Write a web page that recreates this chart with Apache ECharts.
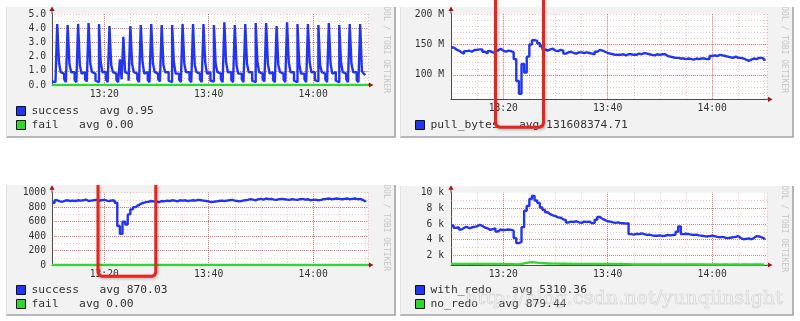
<!DOCTYPE html>
<html><head><meta charset="utf-8">
<script src="https://cdn.jsdelivr.net/npm/echarts@6/dist/echarts.min.js"></script>
<style>html,body{margin:0;padding:0;background:#fff}#c{width:800px;height:321px}</style>
</head><body><div id="c"></div>
<script>
// ---------- time axis (minutes after 13:00) ----------
const timeMin = 10, timeMax = 70.5;
const timeTickValues = [20, 40, 60];
const timeTickLabels = ['13:20', '13:40', '14:00'];

// ---------- panel 1 : success / fail (20 s samples from 13:10) ----------
const p1Start = 10, p1Step = 1 / 3;
const p1Success = [
  0.25,0.2,0.2,
  4.30,1.6,0.9,0.8,0.4,0.2,   4.23,1.5,0.9,0.9,0.35,0.2,  4.30,1.4,0.8,0.9,0.4,0.25,
  4.37,1.5,0.9,0.8,0.3,0.2,   4.30,1.6,0.9,0.9,0.4,0.2,   4.15,1.4,0.9,0.8,0.35,0.2,
  1.8,0.4,3.4,0.9,0.8,0.3,    4.15,1.5,0.9,0.8,0.4,0.2,   4.23,1.6,0.8,0.9,0.35,0.2,
  4.30,1.5,0.9,0.8,0.4,0.25,  4.23,1.4,0.9,0.9,0.3,0.2,   4.23,1.6,0.8,0.8,0.4,0.2,
  4.30,1.5,0.9,0.9,0.35,0.2,  4.30,1.4,0.9,0.8,0.4,0.2,   4.30,1.6,0.8,0.9,0.3,0.25,
  4.23,1.5,0.9,0.8,0.4,0.2,   4.41,1.6,0.9,0.9,0.35,0.2,  4.23,1.4,0.8,0.8,0.4,0.2,
  4.30,1.5,0.9,0.9,0.3,0.2,   4.37,1.6,0.9,0.8,0.4,0.25,  4.37,1.5,0.8,0.9,0.35,0.2,
  4.15,1.4,0.9,0.8,0.4,0.2,   4.41,1.6,0.9,0.9,0.3,0.2,   4.30,1.5,0.8,0.8,0.4,0.2,
  4.30,1.6,0.9,0.9,0.35,0.25, 4.23,1.4,0.9,0.8,0.4,0.2,   4.37,1.5,0.8,0.9,0.3,0.2,
  4.23,1.6,0.9,0.8,0.4,0.2,   4.30,1.5,0.9,0.9,0.35,0.2,
  4.30,1.0,0.8,0.7
];
const p1FailStart = 10, p1FailStep = 1;
const p1Fail = [0,0,0,0,0,0,0,0,0,0,0,0,0,0,0,0,0,0,0,0,0,0,0,0,0,0,0,0,0,0,0,0,0,0,0,0,0,0,0,0,0,0,0,0,0,0,0,0,0,0,0,0,0,0,0,0,0,0,0,0,0,0];
const p1Names = ['success', 'fail'];
const p1Avg = ['0.95', '0.00'];
const p1YTicks = [0, 1, 2, 3, 4, 5];

// ---------- panel 2 : pull_bytes in M (30 s samples from 13:10) ----------
const p2Start = 10, p2Step = 0.5;
const p2PullBytesM = [
  145,142,140,137,135,139,140,138,141,141,
  142,142,138,135,139,137,136,140,143,140,
  138,140,139,137,126,90,69,118,104,130,
  150,157,156,152,147,142,140,142,143,140,
  139,141,140,135,137,138,136,135,137,137,
  136,137,136,135,134,138,141,140,138,136,
  135,134,133,133,133,134,132,134,134,133,
  133,135,134,136,135,134,133,132,134,133,
  134,134,131,130,129,128,128,127,127,126,
  127,126,125,127,126,127,127,126,126,131,
  132,131,133,132,131,130,129,128,130,128,
  128,127,125,123,125,127,126,128,128,126,
  123
];
const p2Names = ['pull_bytes'];
const p2Avg = ['131608374.71'];
const p2YTicks = [100, 150, 200];

// ---------- panel 3 : success / fail (30 s samples from 13:10) ----------
const p3Start = 10, p3Step = 0.5;
const p3Success = [
  860,895,880,875,890,895,885,890,885,895,
  890,895,905,885,890,895,900,890,895,900,
  890,885,895,890,860,540,430,600,560,700,
  770,800,825,845,860,870,875,885,880,875,
  870,885,880,890,885,895,890,880,895,890,
  895,885,890,895,890,900,895,890,885,880,
  870,875,880,885,890,885,890,895,900,890,
  885,880,890,895,900,910,905,895,910,915,
  905,920,910,915,905,900,910,915,910,905,
  900,910,905,900,910,915,905,910,895,900,
  905,895,900,910,915,920,910,915,920,915,
  910,915,920,910,915,920,910,915,900,880,
  870
];
const p3FailStart = 10, p3FailStep = 1;
const p3Fail = [0,0,0,0,0,0,0,0,0,0,0,0,0,0,0,0,0,0,0,0,0,0,0,0,0,0,0,0,0,0,0,0,0,0,0,0,0,0,0,0,0,0,0,0,0,0,0,0,0,0,0,0,0,0,0,0,0,0,0,0,0,0];
const p3Names = ['success', 'fail'];
const p3Avg = ['870.03', '0.00'];
const p3YTicks = [0, 200, 400, 600, 800, 1000];

// ---------- panel 4 : with_redo / no_redo (30 s samples from 13:10) ----------
const p4Start = 10, p4Step = 0.5;
const p4WithRedo = [
  5800,5500,5600,5300,5500,5650,5450,5550,5650,5700,
  5900,5750,5550,5450,5250,5350,5450,5050,5300,5200,
  5250,5300,5250,5150,4200,3550,3700,5600,7700,8300,
  9200,9600,9000,8700,8100,7800,7500,7250,7100,7000,
  6850,6800,6600,6500,6200,6300,6250,6350,6200,6150,
  6300,6250,6300,6100,6150,6550,6900,6650,6500,6350,
  6300,6200,6150,6200,6100,6100,6050,6100,4700,4650,
  4750,4700,4800,4700,4600,4650,4550,4500,4500,4550,
  4450,4500,4600,4550,4600,4650,5000,5700,4700,4750,
  4700,4650,4600,4650,4550,4500,4450,4400,4450,4500,
  4450,4350,4300,4350,4250,4200,4250,4300,4350,4450,
  4200,4050,4100,4150,4050,4200,4450,4400,4300,4150,
  4000
];
const p4NoRedo = [
  900,910,890,900,905,895,900,910,900,895,
  900,905,895,900,890,895,900,890,885,880,
  875,870,860,850,840,850,880,960,1040,1100,
  1120,1100,1060,1030,1000,980,960,950,940,930,
  930,920,930,920,910,920,910,900,910,900,
  905,900,910,900,895,900,905,900,895,890,
  885,880,875,870,880,870,865,860,840,830,
  830,825,820,830,825,820,815,820,825,820,
  815,820,825,820,815,820,825,820,815,820,
  820,815,820,825,820,815,820,815,810,815,
  820,815,810,815,820,815,810,815,820,815,
  810,815,820,815,810,815,820,815,810,815,
  810
];
const p4Names = ['with_redo', 'no_redo'];
const p4Avg = ['5310.36', '879.44'];
const p4YTicks = [2000, 4000, 6000, 8000, 10000];
const p4YMinor = [1000, 3000, 5000, 7000, 9000];

// ---------- layout / style ----------
const mono = 'DejaVu Sans Mono';
const blue = '#2236f0', green = '#2fd82f';
const minorGrid = 'rgba(235,120,120,0.45)';
const majorGrid = 'rgba(225,30,30,0.55)';
const axisColor = '#4a4a4a';
const grids = [
  {left: 52,  top: 14,    width: 316, height: 71},
  {left: 451, top: 14,    width: 316, height: 85.3},
  {left: 52,  top: 192.7, width: 316, height: 72.3},
  {left: 451, top: 192.7, width: 316, height: 72.3}
];
const panels = [
  {x: 6,   y: 7,   w: 389, h: 130},
  {x: 400, y: 7,   w: 393, h: 130},
  {x: 6,   y: 185, w: 389, h: 130},
  {x: 400, y: 186, w: 393, h: 129}
];

function pairs(start, step, vals) { return vals.map((v, i) => [start + i * step, v]); }
function timeFmt(v) { const k = timeTickValues.indexOf(v); return k >= 0 ? timeTickLabels[k] : ''; }

const labelStyle = {fontFamily: mono, fontSize: 9.7, color: '#333'};

const xAxis = grids.map((g, i) => ({
  type: 'value', gridIndex: i, min: timeMin, max: timeMax, interval: 5,
  axisLine: {show: true, onZero: false, lineStyle: {color: axisColor, width: 1}},
  axisTick: {show: false},
  axisLabel: Object.assign({formatter: timeFmt, margin: 4, hideOverlap: false}, labelStyle),
  splitLine: {show: true, lineStyle: {color: minorGrid, type: [1, 2], width: 1}}
}));

function yBase(i) {
  return {
    type: 'value', gridIndex: i,
    axisLine: {show: true, onZero: false, lineStyle: {color: axisColor, width: 1}},
    axisTick: {show: false},
    splitLine: {show: true, lineStyle: {color: minorGrid, type: [1, 2], width: 1}}
  };
}
const yAxis = [
  Object.assign(yBase(0), {min: 0, max: 5, interval: 0.5,
    axisLabel: Object.assign({margin: 6, formatter: v => p1YTicks.indexOf(v) >= 0 ? v.toFixed(1) : ''}, labelStyle)}),
  Object.assign(yBase(1), {min: 60, max: 200, interval: 10,
    axisLabel: Object.assign({margin: 7, formatter: v => p2YTicks.indexOf(v) >= 0 ? v + ' M' : ''}, labelStyle)}),
  Object.assign(yBase(2), {min: 0, max: 1000, interval: 100,
    axisLabel: Object.assign({margin: 6, formatter: v => p3YTicks.indexOf(v) >= 0 ? String(v) : ''}, labelStyle)}),
  Object.assign(yBase(3), {min: 760, max: 10000, splitLine: {show: false},
    axisLabel: Object.assign({margin: 7, customValues: p4YTicks, formatter: v => (v / 1000) + ' k'}, labelStyle)})
];

function gridLines(yMajor, yMinor) {
  const d = timeTickValues.map(t => ({xAxis: t}))
    .concat(yMajor.map(v => ({yAxis: v})))
    .concat((yMinor || []).map(v => ({yAxis: v, lineStyle: {color: minorGrid, type: [1, 2], width: 1}})));
  return {silent: true, symbol: ['none', 'none'], label: {show: false}, animation: false, z: 1,
    lineStyle: {color: majorGrid, type: [1, 1], width: 1}, data: d};
}

function line(name, i, data, color, ml) {
  const s = {name: name, type: 'line', xAxisIndex: i, yAxisIndex: i, data: data, step: 'end',
    showSymbol: false, symbol: 'none', color: color, z: 3,
    lineStyle: {color: color, width: 2.4}, animation: false};
  if (ml) s.markLine = ml;
  return s;
}

const series = [
  line('success', 0, pairs(p1Start, p1Step, p1Success), blue, gridLines(p1YTicks.slice(1, -1))),
  line('fail', 0, pairs(p1FailStart, p1FailStep, p1Fail), green),
  line('pull_bytes', 1, pairs(p2Start, p2Step, p2PullBytesM), blue, gridLines(p2YTicks.slice(0, -1))),
  line('success', 2, pairs(p3Start, p3Step, p3Success), blue, gridLines(p3YTicks.slice(1, -1))),
  line('fail', 2, pairs(p3FailStart, p3FailStep, p3Fail), green),
  line('with_redo', 3, pairs(p4Start, p4Step, p4WithRedo), blue, gridLines(p4YTicks.slice(0, -1), p4YMinor)),
  line('no_redo', 3, pairs(p4Start, p4Step, p4NoRedo), green)
];

function legendFor(names, avgs, left, top) {
  return {
    data: names, left: left, top: top, orient: 'vertical', padding: 0, itemGap: 0,
    icon: 'rect', itemWidth: 9, itemHeight: 9, selectedMode: false,
    itemStyle: {borderColor: '#111', borderWidth: 1},
    textStyle: {fontFamily: mono, fontSize: 11.3, color: '#333', lineHeight: 14, padding: [0, 0, 0, 1]},
    formatter: n => n + '   avg ' + avgs[names.indexOf(n)]
  };
}
const legend = [
  legendFor(p1Names, p1Avg, 16, 104),
  legendFor(p2Names, p2Avg, 415, 118),
  legendFor(p3Names, p3Avg, 16, 283),
  legendFor(p4Names, p4Avg, 415, 283)
];

// ---------- decorations ----------
const graphic = [];
panels.forEach(p => {
  graphic.push({type: 'rect', z: -10, shape: {x: p.x, y: p.y, width: p.w, height: p.h}, style: {fill: '#f2f2f2'}});
  graphic.push({type: 'polyline', z: -9, shape: {points: [[p.x + p.w, p.y], [p.x + p.w, p.y + p.h], [p.x, p.y + p.h]]},
    style: {stroke: '#a3a3a3', lineWidth: 1.6, fill: null}});
  graphic.push({type: 'line', z: -9, shape: {x1: p.x + 0.5, y1: p.y, x2: p.x + 0.5, y2: p.y + p.h}, style: {stroke: '#e2e2e2', lineWidth: 1}});
  graphic.push({type: 'text', z: -8, x: p.x + p.w - 8.5, y: p.y + 86, rotation: -Math.PI / 2,
    style: {text: 'RRDTOOL / TOBI OETIKER', fill: '#c6c6c6', font: '8px "DejaVu Sans Mono"', align: 'right', verticalAlign: 'middle'}});
});
// white gaps above the panels (panel tops were cut off)
graphic.push({type: 'rect', z: -7, shape: {x: 0, y: -20, width: 800, height: 27}, style: {fill: '#fff'}});
graphic.push({type: 'rect', z: -7, shape: {x: 0, y: 138, width: 800, height: 47}, style: {fill: '#fff'}});
graphic.push({type: 'rect', z: -7, shape: {x: 400, y: 185, width: 400, height: 1}, style: {fill: '#fff'}});
// axis arrows
grids.forEach(g => {
  const L = g.left, T = g.top, R = g.left + g.width, B = g.top + g.height;
  graphic.push({type: 'line', z: 10, shape: {x1: L, y1: T, x2: L, y2: T - 4}, style: {stroke: axisColor, lineWidth: 1}});
  graphic.push({type: 'polygon', z: 10, shape: {points: [[L - 2.6, T - 3], [L + 2.6, T - 3], [L, T - 7.5]]}, style: {fill: '#a31515'}});
  graphic.push({type: 'line', z: 10, shape: {x1: R, y1: B, x2: R + 2, y2: B}, style: {stroke: axisColor, lineWidth: 1}});
  graphic.push({type: 'polygon', z: 10, shape: {points: [[R + 1, B - 2.6], [R + 1, B + 2.6], [R + 5.5, B]]}, style: {fill: '#a31515'}});
});
// hand-drawn red annotation boxes (open at the top)
function redBox(x1, x2, yTop, yBot) {
  return {type: 'polyline', z: 100,
    shape: {points: [[x1, yTop], [x1, yBot - 4], [x1 + 1.2, yBot - 1.2], [x1 + 4, yBot], [x2 - 4, yBot], [x2 - 1.2, yBot - 1.2], [x2, yBot - 4], [x2, yTop]]},
    style: {stroke: '#e8241c', lineWidth: 3, fill: null, lineJoin: 'round', shadowBlur: 3, shadowColor: 'rgba(0,0,0,0.3)', shadowOffsetX: 1, shadowOffsetY: 1}};
}
graphic.push(redBox(495.5, 543.5, -5, 127.2));
graphic.push(redBox(98, 155.8, 185, 276.3));
// watermark
graphic.push({type: 'text', z: 100, x: 624, y: 299,
  style: {text: 'http://blog.csdn.net/yunqiinsight', font: '19.2px "DejaVu Serif"', align: 'center', verticalAlign: 'middle',
    fill: 'rgba(255,255,255,0.25)', stroke: 'rgba(150,150,150,0.4)', lineWidth: 0.7}});

const chart = echarts.init(document.getElementById('c'), null, {width: 800, height: 321});
chart.setOption({
  animation: false,
  backgroundColor: '#fff',
  grid: grids.map(g => Object.assign({show: true, backgroundColor: '#fff', borderWidth: 0, containLabel: false}, g)),
  xAxis: xAxis,
  yAxis: yAxis,
  legend: legend,
  series: series,
  graphic: graphic
});
</script></body></html>
